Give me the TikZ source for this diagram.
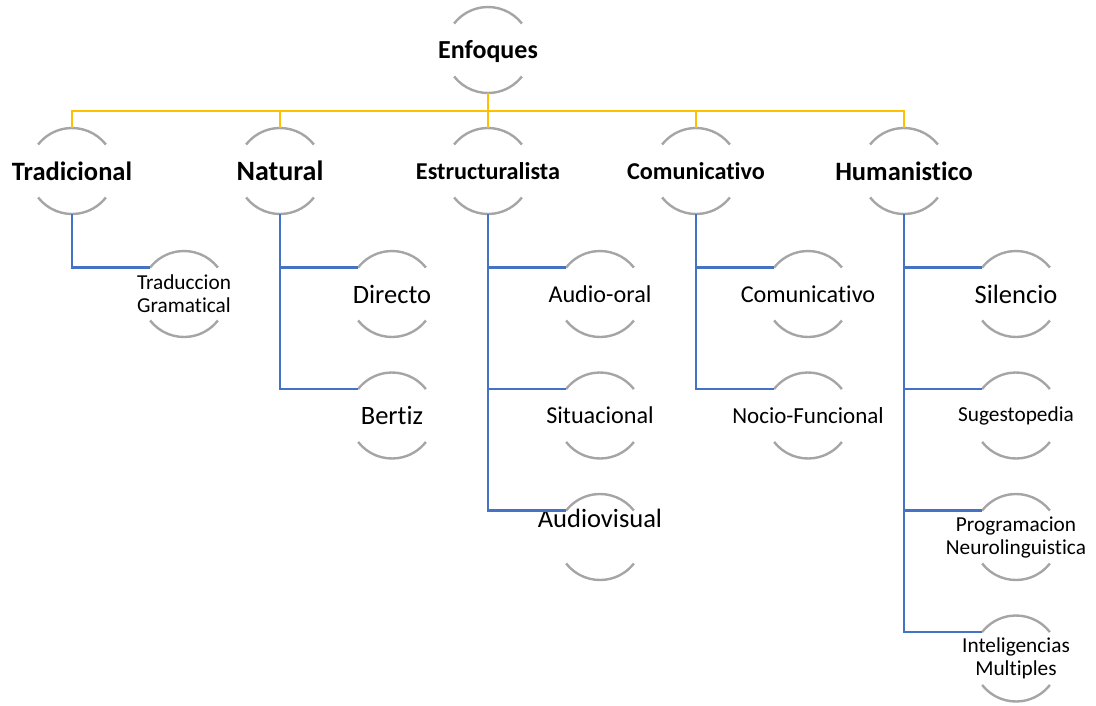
\documentclass[tikz,border=0pt]{standalone}
\usepackage{fontspec}
\setmainfont{Carlito}[Ligatures=NoCommon]
\usetikzlibrary{shapes,arrows}
\definecolor{gold}{HTML}{FFC000}
\definecolor{blueline}{HTML}{4472C4}
\definecolor{arcgray}{HTML}{A5A5A5}
\tikzstyle{hub} = [circle, minimum size=86pt, inner sep=0pt, outer sep=0pt, node distance=208pt]
\tikzstyle{first} = [hub, xshift=112pt, node distance=123pt]
\tikzstyle{kid} = [hub, node distance=121.5pt]
\tikzstyle{ring} = [draw=arcgray, line width=2.4pt]
\tikzstyle{top} = [draw=gold, line width=2.2pt]
\tikzstyle{sub} = [draw=blueline, line width=2.2pt]
\tikzstyle{hxl} = [font=\bfseries\fontsize{28}{30}\selectfont]
\tikzstyle{hl} = [font=\bfseries\fontsize{26.5}{28}\selectfont]
\tikzstyle{hm} = [font=\bfseries\fontsize{24.2}{26}\selectfont]
\tikzstyle{txl} = [font=\fontsize{26.5}{28}\selectfont]
\tikzstyle{tm} = [font=\fontsize{24.2}{26}\selectfont]
\tikzstyle{ts} = [font=\fontsize{21.3}{23}\selectfont, align=center]

\begin{document}
\begin{tikzpicture}[x=1pt, y=-1pt]
		\useasboundingbox (0,0) rectangle (1096,705);
		% top
		\node [hub, label={[hl, font=\bfseries\fontsize{26}{28}\selectfont, yshift=-2pt]center:Enfoques}] (enf) at (488,50) {};
		% approaches
		\node [hub, below of=enf, xshift=-416pt, node distance=121pt, label={[hl]center:Tradicional}] (trad) {};
		\node [hub, right of=trad, label={[hxl]center:Natural}] (nat) {};
		\node [hub, right of=nat, label={[hm]center:Estructuralista}] (estr) {};
		\node [hub, right of=estr, label={[hm]center:Comunicativo}] (com) {};
		\node [hub, right of=com, label={[hl]center:Humanistico}] (hum) {};
		% methods
		\node [first, below of=trad, label={[ts]center:Traduccion\\Gramatical}] (tragram) {};
		\node [first, below of=nat, label={[txl]center:Directo}] (dir) {};
		\node [kid, below of=dir, label={[txl]center:Bertiz}] (bert) {};
		\node [first, below of=estr, label={[tm]center:Audio-oral}] (audor) {};
		\node [kid, below of=audor, label={[tm]center:Situacional}] (sit) {};
		\node [kid, below of=sit, label={[txl, yshift=19pt]center:Audiovisual}] (audvis) {};
		\node [first, below of=com, label={[tm]center:Comunicativo}] (comm) {};
		\node [kid, below of=comm, label={[ts, font=\fontsize{23}{24}\selectfont]center:Nocio-Funcional}] (nocio) {};
		\node [first, below of=hum, label={[txl]center:Silencio}] (sil) {};
		\node [kid, below of=sil, label={[ts]center:Sugestopedia}] (sug) {};
		\node [kid, below of=sug, label={[ts]center:Programacion\\Neurolinguistica}] (pnl) {};
		\node [kid, below of=pnl, label={[ts]center:Inteligencias\\Multiples}] (intm) {};
		% arcs
		\foreach \n in {enf,trad,nat,estr,com,hum,tragram,dir,bert,audor,sit,audvis,comm,nocio,sil,sug,pnl,intm}
		{
			\draw [ring] (\n.38) arc[start angle=38, end angle=142, radius=43pt];
			\draw [ring] (\n.218) arc[start angle=218, end angle=322, radius=43pt];
		}
		% connectors
		\foreach \n in {trad,nat,estr,com,hum}
			\path [top] (enf.south) -- ++(0,18) -| (\n.north);
		\path [sub] (trad.south) |- (tragram.142);
		\path [sub] (nat.south) |- (dir.142);
		\path [sub] (nat.south) |- (bert.142);
		\path [sub] (estr.south) |- (audor.142);
		\path [sub] (estr.south) |- (sit.142);
		\path [sub] (estr.south) |- (audvis.142);
		\path [sub] (com.south) |- (comm.142);
		\path [sub] (com.south) |- (nocio.142);
		\path [sub] (hum.south) |- (sil.142);
		\path [sub] (hum.south) |- (sug.142);
		\path [sub] (hum.south) |- (pnl.142);
		\path [sub] (hum.south) |- (intm.142);
	\end{tikzpicture}
\end{document}
